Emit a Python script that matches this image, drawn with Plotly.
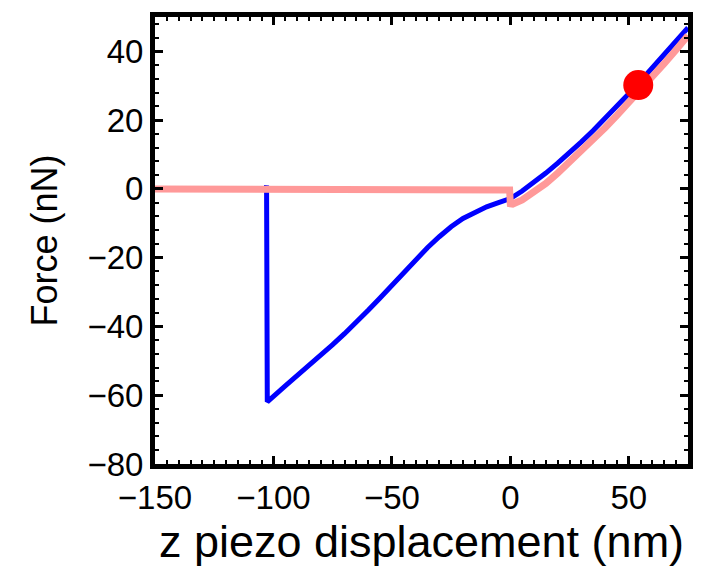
import plotly.graph_objects as go

# Blue curve (approach / retract with snap-off)
blue_x = [-150, -125, -103.2, -102.9, -102.6, -95, -90, -85, -80, -75, -70, -65, -60, -55, -50,
          -45, -40, -35, -30, -25, -20, -15, -10, -5, -2, 0,
          5, 10, 15, 20, 25, 30, 35, 40, 45, 50, 55, 60, 65, 70, 75]
blue_y = [0.0, 0.0, 0.0, 1.0, -61.9, -57.3, -54.4, -51.4, -48.4, -45.3, -42.1, -38.8, -35.3, -31.7, -28.0,
          -24.3, -20.6, -17.1, -13.9, -11.0, -8.6, -6.7, -5.2, -4.0, -3.3, -2.8,
          -0.6, 1.8, 4.6, 7.5, 10.5, 13.7, 17.0, 20.4, 24.0, 27.7, 31.4, 35.2, 39.0, 42.9, 46.9]

# Pink curve
pink_x = [-150, -100, -50, -10, -0.3, 0.0, 1, 5, 10, 15, 20, 25, 30, 35, 40, 45, 50, 55, 60, 65, 70, 75]
pink_y = [0.0, -0.1, -0.1, -0.2, -0.3, -4.3, -4.4, -3.2, -1.0, 1.6, 4.6, 7.8, 11.0, 14.4, 17.8, 21.4,
          25.0, 28.8, 32.6, 36.5, 40.5, 44.6]

# Red marker
dot_x = [54]
dot_y = [30.2]

x_ticks = [-150, -100, -50, 0, 50]
y_ticks = [-80, -60, -40, -20, 0, 20, 40]

fig = go.Figure()
fig.add_trace(go.Scatter(x=blue_x, y=blue_y, mode="lines",
                         line=dict(color="#0000ff", width=5), hoverinfo="skip"))
fig.add_trace(go.Scatter(x=pink_x, y=pink_y, mode="lines",
                         line=dict(color="#ff9999", width=7), hoverinfo="skip"))
fig.add_trace(go.Scatter(x=dot_x, y=dot_y, mode="markers",
                         marker=dict(color="#ff0000", size=30), hoverinfo="skip"))

font_family = "Liberation Sans, Arial, sans-serif"
axis_common = dict(
    showline=True, linecolor="black", linewidth=5, mirror="ticks",
    ticks="inside", ticklen=8, tickwidth=3, tickcolor="black",
    showgrid=False, zeroline=False,
    tickfont=dict(family=font_family, size=33, color="black"),
)

fig.update_xaxes(range=[-150, 75], tickvals=x_ticks,
                 minor=dict(ticks="inside", ticklen=4, tickwidth=2, dtick=5, tickcolor="black", showgrid=False),
                 title=dict(text="z piezo displacement (nm)",
                            font=dict(family=font_family, size=45, color="black"), standoff=8),
                 **axis_common)
fig.update_yaxes(range=[-80, 50], tickvals=y_ticks,
                 minor=dict(ticks="inside", ticklen=4, tickwidth=2, dtick=4, tickcolor="black", showgrid=False),
                 title=dict(text="Force (nN)",
                            font=dict(family=font_family, size=36, color="black"), standoff=20),
                 **axis_common)

fig.update_layout(
    width=705, height=567,
    margin=dict(l=155, r=15, t=13, b=102),
    plot_bgcolor="white", paper_bgcolor="white",
    showlegend=False,
)

fig.write_html("out.html")
